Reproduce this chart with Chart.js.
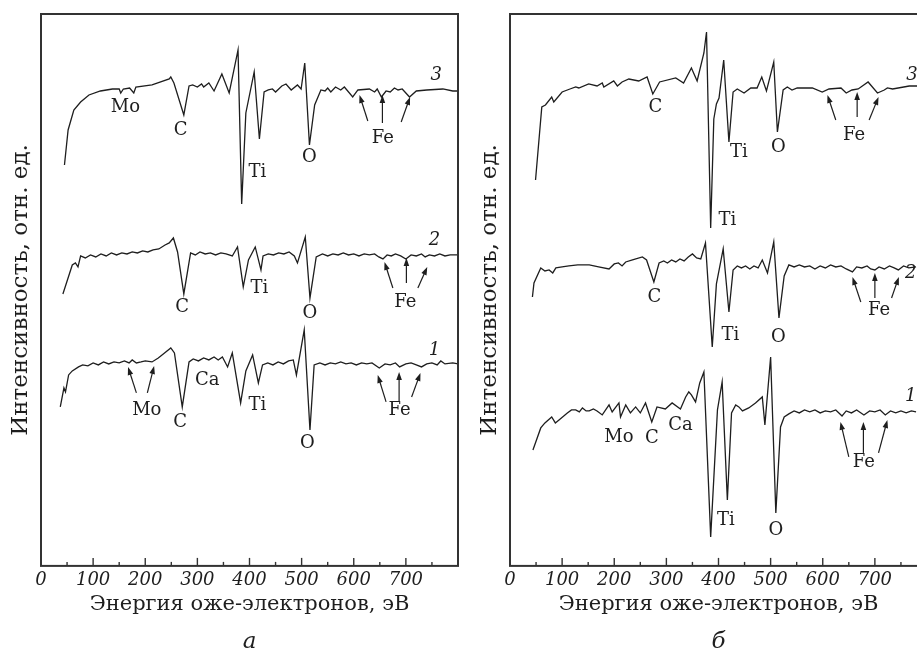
<!DOCTYPE html>
<html>
<head>
<meta charset="utf-8">
<script src="https://cdn.jsdelivr.net/npm/chart.js@4/dist/chart.umd.min.js"></script>
<style>
    body { margin: 0; background: #fff; overflow: hidden; width: 917px; height: 657px; position: relative; }
    canvas { position: absolute; top: 0; }
    #chartA { left: 0; }
    #chartB { left: 469px; }
</style>
</head>
<body>
<canvas id="chartA" width="470" height="657"></canvas>
<canvas id="chartB" width="470" height="657"></canvas>
<script>
// energy axis, eV
var xTicks = [0, 100, 200, 300, 400, 500, 600, 700];

// panel a, curve 1
var energyA1 = [37,44,47,53,60,72,80,90,100,110,120,130,140,150,160,169,175,183,192,200,213,225,237,249,256,271,284,292,302,312,322,332,340,348,358,367,383,393,406,417,425,435,445,455,465,475,484,490,505,516,524,535,545,555,565,575,585,595,605,615,625,635,649,660,670,680,688,700,710,720,730,740,750,760,767,775,790,800];
var intensityA1 = [159,178,174,191,195,199,201,200,203,201,204,202,204,203,205,203,206,203,204,205,204,208,213,218,213,159,204,207,205,208,206,209,206,209,199,213,163,195,211,183,201,203,201,204,202,205,206,191,236,136,201,203,201,203,202,204,202,203,201,203,202,203,198,202,201,203,199,202,203,201,199,202,203,201,205,202,203,202];
// panel a, curve 2
var energyA2 = [42,60,66,71,76,85,95,105,115,125,135,145,155,165,175,185,195,205,215,226,238,246,254,262,274,287,296,305,315,325,335,345,355,367,377,388,398,411,422,426,436,446,456,466,476,486,492,507,516,528,540,550,560,570,580,590,600,610,620,630,640,648,656,664,672,680,690,700,710,720,730,737,745,755,765,775,785,800];
var intensityA2 = [272,301,303,299,310,308,311,309,312,310,313,311,313,312,314,313,315,314,316,317,321,323,328,314,272,313,311,314,312,313,311,313,312,310,319,279,306,319,296,310,312,311,313,312,314,310,303,329,268,309,312,310,312,311,313,311,312,310,312,311,312,309,307,311,310,312,310,307,311,310,312,309,311,310,312,310,311,311];
// panel a, curve 3
var energyA3 = [45,52,63,76,92,114,137,150,153,158,170,178,182,213,246,249,255,274,284,291,300,308,312,322,332,347,361,378,385,393,409,419,428,436,444,450,462,470,480,492,499,506,515,525,537,545,550,556,565,575,582,598,608,630,640,645,653,662,670,678,685,693,707,720,740,771,790,800];
var intensityA3 = [401,436,456,464,471,475,477,477,473,477,478,473,479,481,487,489,483,451,480,481,479,482,479,483,475,492,473,516,362,453,494,427,474,476,477,474,480,482,476,481,477,503,421,461,476,475,478,474,479,476,479,469,476,477,474,477,469,475,474,478,476,477,469,475,476,477,475,475];

// panel b, curve 1
var energyB1 = [44,59,67,80,87,94,110,118,126,133,139,146,152,160,167,177,190,196,209,212,222,231,241,250,260,272,282,298,311,327,337,343,348,356,364,372,385,398,407,417,425,433,439,446,458,471,484,489,500,510,519,526,535,545,555,565,575,585,595,605,615,625,637,645,655,665,679,690,700,710,720,730,740,750,760,770,779];
var intensityB1 = [116,138,143,149,143,146,153,156,156,154,158,155,155,157,155,151,161,154,163,149,161,153,159,153,163,144,159,157,163,157,169,174,171,164,183,194,29,156,184,66,153,161,159,155,158,163,169,141,209,53,139,149,152,155,153,156,154,156,153,155,154,156,150,155,153,156,151,155,154,156,151,155,153,155,153,155,154];
// panel b, curve 2
var energyB2 = [43,46,59,67,75,82,88,100,113,130,152,170,190,200,208,215,222,235,254,262,276,286,295,302,310,318,326,334,342,350,358,366,375,388,396,409,420,428,436,444,452,460,468,476,484,494,506,516,526,535,545,555,565,575,585,595,605,615,625,635,645,657,665,675,685,692,700,708,718,728,737,745,755,765,779];
var intensityB2 = [269,283,298,295,296,293,298,299,300,301,301,299,297,302,303,300,304,306,309,306,284,303,305,303,306,304,307,305,309,312,308,307,323,219,282,317,254,296,300,298,300,297,300,298,306,293,324,248,290,301,299,301,299,300,297,300,298,301,299,300,297,294,299,298,300,297,296,299,297,300,298,296,300,298,299];
// panel b, curve 3
var energyB3 = [49,61,68,80,84,100,115,126,132,151,167,177,180,199,206,215,228,247,263,274,287,318,333,348,359,372,377,385,391,396,401,410,420,428,436,449,462,474,483,492,506,513,524,532,541,551,580,599,612,635,645,656,668,687,705,718,724,734,766,790];
var intensityB3 = [386,459,461,469,464,474,477,479,478,482,480,483,479,485,480,484,487,485,489,472,484,488,483,498,485,513,534,338,447,462,468,506,424,474,477,473,478,478,489,475,504,434,476,479,476,478,478,474,477,478,473,476,477,484,473,476,478,477,480,480];

// peak labels: text, energy, intensity, italic
var notesA = [
    ['3', 758, 491, true], ['Mo', 162, 459], ['C', 268, 436], ['Ti', 415, 394], ['O', 515, 409], ['Fe', 656, 428],
    ['2', 755, 326, true], ['C', 271, 259], ['Ti', 419, 278], ['O', 516, 253], ['Fe', 699, 264],
    ['1', 755, 216, true], ['Mo', 203, 156], ['C', 267, 144], ['Ca', 319, 186], ['Ti', 415, 161], ['O', 511, 123], ['Fe', 688, 156]
];
var notesB = [
    ['3', 771, 491, true], ['C', 279, 459], ['Ti', 439, 414], ['Ti', 417, 346], ['O', 515, 419], ['Fe', 660, 431],
    ['2', 769, 293, true], ['C', 277, 269], ['Ti', 423, 231], ['O', 515, 229], ['Fe', 708, 256],
    ['1', 769, 170, true], ['Mo', 209, 129], ['C', 272, 128], ['Ca', 327, 141], ['Ti', 414, 46], ['O', 510, 36], ['Fe', 679, 104]
];
// arrows: from (energy, intensity) to (energy, intensity)
var arrowsA = [
    [627, 445, 611, 471], [655, 443, 655, 471], [691, 444, 708, 469],
    [675, 278, 659, 304], [701, 283, 701, 308], [723, 278, 741, 299],
    [183, 173, 167, 199], [204, 173, 217, 200],
    [662, 164, 646, 191], [687, 164, 687, 194], [711, 169, 728, 193]
];
var arrowsB = [
    [625, 446, 609, 471], [666, 449, 666, 474], [689, 446, 707, 469],
    [673, 264, 657, 289], [700, 268, 700, 293], [732, 268, 746, 289],
    [650, 109, 634, 144], [678, 113, 678, 144], [707, 113, 724, 146]
];

var serif = 'DejaVu Serif';
var ink = '#1e1e1e';

function toPoints(xs, ys) {
    var pts = [];
    for (var i = 0; i < xs.length; ++i) {
        pts.push({ x: xs[i], y: ys[i] });
    }
    return pts;
}

// frame, inward ticks, peak labels and arrows
var decorPlugin = {
    id: 'decor',
    afterDraw: function(chart) {
        var ctx = chart.ctx;
        var area = chart.chartArea;
        var sx = chart.scales.x, sy = chart.scales.y;
        var opts = chart.options.plugins.decor;
        ctx.save();
        ctx.strokeStyle = '#333';
        ctx.lineWidth = 2;
        ctx.strokeRect(area.left, area.top, area.right - area.left, area.bottom - area.top);

        ctx.lineWidth = 1.4;
        for (var e = 50; e < 800; e += 50) {
            var px = sx.getPixelForValue(e);
            var len = (e % 100 == 0) ? 8 : 4;
            ctx.beginPath();
            ctx.moveTo(px, area.bottom);
            ctx.lineTo(px, area.bottom - len);
            ctx.stroke();
        }

        ctx.fillStyle = ink;
        ctx.textAlign = 'center';
        ctx.textBaseline = 'middle';
        opts.notes.forEach(function(n) {
            ctx.font = (n[3] ? 'italic ' : '') + '18px "' + serif + '"';
            ctx.fillText(n[0], sx.getPixelForValue(n[1]), sy.getPixelForValue(n[2]));
        });

        ctx.strokeStyle = ink;
        ctx.lineWidth = 1.2;
        opts.arrows.forEach(function(a) {
            var x1 = sx.getPixelForValue(a[0]), y1 = sy.getPixelForValue(a[1]);
            var x2 = sx.getPixelForValue(a[2]), y2 = sy.getPixelForValue(a[3]);
            var ang = Math.atan2(y2 - y1, x2 - x1);
            ctx.beginPath();
            ctx.moveTo(x1, y1);
            ctx.lineTo(x2 - 5 * Math.cos(ang), y2 - 5 * Math.sin(ang));
            ctx.stroke();
            ctx.beginPath();
            ctx.moveTo(x2, y2);
            ctx.lineTo(x2 - 8 * Math.cos(ang) + 2.8 * Math.sin(ang), y2 - 8 * Math.sin(ang) - 2.8 * Math.cos(ang));
            ctx.lineTo(x2 - 8 * Math.cos(ang) - 2.8 * Math.sin(ang), y2 - 8 * Math.sin(ang) + 2.8 * Math.cos(ang));
            ctx.closePath();
            ctx.fill();
        });
        ctx.restore();
    }
};

function makePanel(id, curves, notes, arrows, caption) {
    var datasets = curves.map(function(c) {
        return {
            data: toPoints(c[0], c[1]),
            borderColor: ink,
            borderWidth: 1.3,
            pointRadius: 0,
            tension: 0,
            fill: false
        };
    });
    var ctx = document.getElementById(id).getContext('2d');
    return new Chart(ctx, {
        type: 'line',
        data: { datasets: datasets },
        options: {
            responsive: false,
            animation: false,
            devicePixelRatio: 1,
            layout: { padding: { top: 14, right: 12, bottom: 0, left: 0 } },
            scales: {
                x: {
                    type: 'linear',
                    min: 0,
                    max: 800,
                    afterBuildTicks: function(scale) {
                        scale.ticks = xTicks.map(function(v) { return { value: v }; });
                    },
                    ticks: {
                        padding: 4,
                        color: ink,
                        maxRotation: 0,
                        autoSkip: false,
                        font: { family: serif, size: 18, style: 'italic' }
                    },
                    grid: { display: false, drawTicks: false },
                    border: { display: false },
                    title: {
                        display: true,
                        text: 'Энергия оже-электронов, эВ',
                        color: ink,
                        font: { family: serif, size: 21 },
                        padding: { top: 4, bottom: 8 }
                    },
                    afterFit: function(scale) { scale.height = 59.5; }
                },
                y: {
                    min: 0,
                    max: 552,
                    ticks: { display: false },
                    grid: { display: false, drawTicks: false },
                    border: { display: false },
                    title: {
                        display: true,
                        text: 'Интенсивность, отн. ед.',
                        color: ink,
                        font: { family: serif, size: 23 },
                        padding: { top: 7, bottom: 0 }
                    },
                    afterFit: function(scale) { scale.width = 41; }
                }
            },
            plugins: {
                legend: { display: false },
                tooltip: { enabled: false },
                title: {
                    display: true,
                    text: caption,
                    position: 'bottom',
                    fullSize: false,
                    color: ink,
                    font: { family: serif, size: 23, style: 'italic', weight: 'normal' },
                    padding: { top: 3, bottom: 1 }
                },
                decor: { notes: notes, arrows: arrows }
            }
        },
        plugins: [decorPlugin]
    });
}

makePanel('chartA', [[energyA1, intensityA1], [energyA2, intensityA2], [energyA3, intensityA3]], notesA, arrowsA, 'а');
makePanel('chartB', [[energyB1, intensityB1], [energyB2, intensityB2], [energyB3, intensityB3]], notesB, arrowsB, 'б');
</script>
</body>
</html>
